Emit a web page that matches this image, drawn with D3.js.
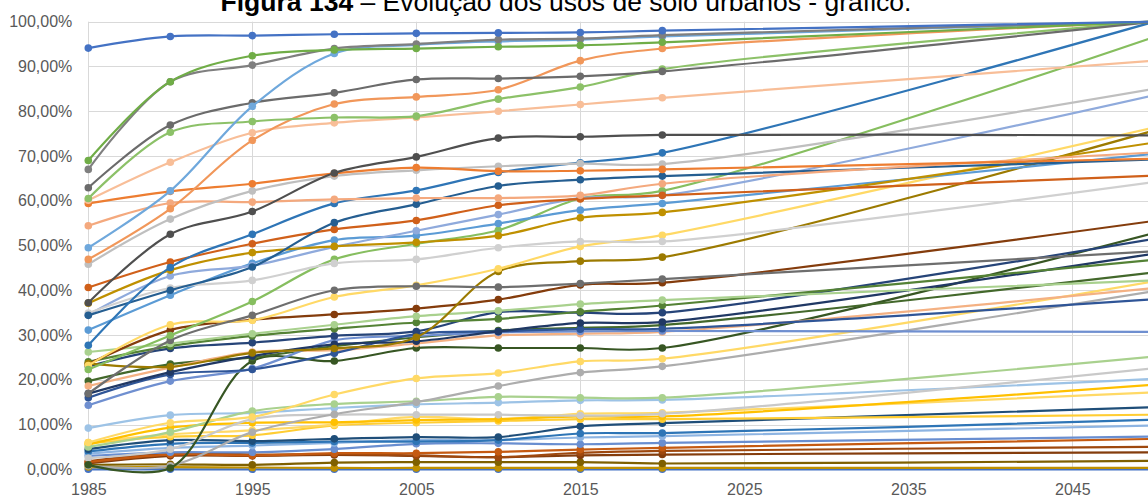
<!DOCTYPE html>
<html>
<head>
<meta charset="utf-8">
<script src="https://cdn.jsdelivr.net/npm/d3@7"></script>
<style>
  html, body { margin: 0; padding: 0; background: #fff; overflow: hidden; }
  svg { display: block; font-family: "Liberation Sans", Arial, sans-serif; }
</style>
</head>
<body>
<div id="chart"></div>
<script>
// anos com dados (o último ponto é a projeção para 2050)
var years = [1985, 1990, 1995, 2000, 2005, 2010, 2015, 2020, 2050];
var xTicks = [1985, 1995, 2005, 2015, 2025, 2035, 2045];
var yTicks = [0, 10, 20, 30, 40, 50, 60, 70, 80, 90, 100];

// valores (%) de cada uso do solo
var serie01 = [94.1, 96.7, 96.9, 97.2, 97.4, 97.5, 97.6, 98.0, 100];
var serie02 = [69.0, 86.6, 92.4, 93.7, 94.0, 94.4, 94.7, 95.4, 100];
var serie03 = [67.0, 86.6, 90.3, 94.0, 95.0, 96.0, 96.2, 97.0, 100];
var serie04 = [49.5, 62.2, 81.1, 92.9, 94.8, 95.6, 96.0, 96.7, 100];
var serie05 = [62.9, 76.9, 81.9, 84.1, 87.1, 87.3, 87.8, 88.9, 100];
var serie06 = [60.5, 75.3, 77.7, 78.6, 78.9, 82.7, 85.4, 89.4, 100];
var serie07 = [46.9, 58.2, 73.5, 81.6, 83.2, 84.8, 91.3, 94.0, 100];
var serie08 = [60.1, 68.6, 75.2, 77.4, 78.6, 80.0, 81.5, 83.0, 91.3];
var serie09 = [37.2, 52.5, 57.6, 66.2, 69.8, 74.0, 74.3, 74.7, 74.6];
var serie10 = [59.4, 62.1, 63.8, 66.1, 67.4, 66.6, 66.7, 67.0, 69.4];
var serie11 = [45.8, 55.9, 62.2, 65.5, 66.8, 67.7, 68.3, 68.2, 85.0];
var serie12 = [54.4, 59.5, 59.7, 60.3, 60.6, 60.6, 61.2, 63.8, 70.8];
var serie13 = [27.7, 45.1, 52.5, 59.4, 62.3, 66.3, 68.5, 70.7, 100];
var serie14 = [34.4, 40.0, 45.2, 55.1, 59.2, 63.3, 64.7, 65.5, 69.2];
var serie15 = [40.6, 46.3, 50.4, 53.6, 55.6, 59.0, 60.4, 61.2, 65.6];
var serie16 = [37.1, 44.5, 48.4, 49.8, 50.7, 52.2, 56.2, 57.4, 73.0];
var serie17 = [34.9, 40.5, 42.2, 46.0, 46.9, 49.5, 50.9, 50.9, 64.2];
var serie18 = [34.5, 43.2, 45.5, 49.7, 53.3, 56.9, 60.6, 61.2, 83.6];
var serie19 = [31.1, 38.9, 46.0, 51.2, 52.2, 54.9, 57.9, 59.4, 70.5];
var serie20 = [22.3, 29.9, 37.5, 46.9, 50.4, 53.4, 60.5, 62.2, 96.6];
var serie21 = [16.9, 28.8, 34.4, 40.0, 40.9, 40.7, 41.5, 42.5, 48.7];
var serie22 = [23.2, 32.3, 33.3, 38.5, 41.1, 44.8, 49.8, 52.3, 76.4];
var serie23 = [23.6, 22.9, 26.0, 27.0, 29.5, 44.2, 46.5, 47.4, 75.7];
var serie24 = [23.5, 31.1, 33.4, 34.6, 35.9, 37.9, 41.2, 41.7, 55.5];
var serie25 = [26.2, 28.1, 30.3, 32.3, 34.2, 35.4, 36.9, 37.8, 42.2];
var serie26 = [24.0, 27.5, 29.8, 31.4, 32.8, 33.6, 35.2, 36.6, 46.8];
var serie27 = [23.0, 27.0, 28.3, 29.8, 30.8, 35.1, 35.0, 35.0, 51.5];
var serie28 = [16.9, 21.7, 25.3, 27.9, 28.6, 30.8, 32.7, 32.9, 48.2];
var serie29 = [16.0, 21.2, 22.3, 25.9, 30.2, 30.8, 31.3, 31.4, 38.0];
var serie30 = [14.3, 19.7, 22.5, 28.8, 29.8, 30.6, 30.8, 30.9, 30.7];
var serie31 = [18.6, 22.7, 26.2, 26.6, 28.1, 29.9, 30.3, 30.7, 40.5];
var serie32 = [19.7, 23.5, 25.0, 27.5, 29.5, 31.0, 31.6, 32.2, 44.0];
var serie33 = [1.0, 0.3, 24.2, 24.2, 27.1, 27.1, 27.1, 27.1, 52.8];
var serie34 = [6.0, 10.4, 11.7, 16.7, 20.3, 21.5, 24.1, 24.7, 42.0];
var serie35 = [0.8, 0.8, 8.3, 12.3, 15.0, 18.6, 21.6, 23.0, 39.8];
var serie36 = [2.5, 4.5, 11.2, 12.2, 12.2, 12.2, 12.0, 12.4, 22.6];
var serie37 = [5.0, 8.3, 13.0, 14.6, 15.2, 16.2, 16.0, 16.0, 25.2];
var serie38 = [9.2, 12.1, 12.6, 13.7, 14.5, 14.9, 15.4, 15.5, 20.2];
var serie39 = [5.5, 9.3, 10.4, 10.5, 11.0, 11.2, 11.8, 11.8, 18.9];
var serie40 = [6.0, 7.8, 8.7, 10.0, 11.7, 11.2, 12.4, 12.6, 17.2];
var serie41 = [5.8, 7.3, 7.6, 9.8, 10.4, 10.8, 11.2, 11.2, 12.2];
var serie42 = [4.5, 6.5, 6.3, 6.8, 7.2, 7.2, 9.6, 10.3, 13.9];
var serie43 = [4.0, 5.7, 5.9, 6.2, 6.2, 6.5, 8.0, 8.1, 11.1];
var serie44 = [3.5, 4.8, 5.3, 5.9, 6.5, 6.5, 7.1, 7.4, 9.8];
var serie45 = [3.0, 3.8, 3.8, 4.5, 5.7, 5.8, 5.6, 5.9, 7.3];
var serie46 = [1.6, 3.3, 3.1, 3.6, 3.6, 3.9, 4.4, 4.8, 6.8];
var serie47 = [1.8, 3.6, 3.3, 3.4, 3.1, 2.7, 3.7, 4.1, 5.0];
var serie48 = [1.3, 3.0, 3.0, 3.2, 3.0, 2.7, 3.1, 3.3, 3.8];
var serie49 = [1.0, 1.1, 1.0, 1.5, 1.6, 1.6, 1.6, 1.3, 1.9];
var serie50 = [0.5, 0.5, 0.4, 0.3, 0.3, 0.3, 0.3, 0.3, 0.3];
var serie51 = [0, 0, 0, 0, 0, 0, 0, 0, 0];

var allSeries = [serie51, serie50, serie49, serie48, serie47, serie46, serie45, serie44, serie43, serie42,
  serie41, serie40, serie39, serie38, serie37, serie36, serie35, serie34, serie33, serie32,
  serie31, serie30, serie29, serie28, serie27, serie26, serie25, serie24, serie23, serie22,
  serie21, serie20, serie19, serie18, serie17, serie16, serie15, serie14, serie13, serie12,
  serie11, serie10, serie09, serie08, serie07, serie06, serie05, serie04, serie03, serie02, serie01];

var colors = ["#4472C4", "#BF9000", "#7F6000", "#843C0C", "#9E480E", "#C55A11", "#698ED0", "#8DB4E2", "#2E75B6", "#1F4E79",
  "#FFCD33", "#FFD966", "#FFC000", "#9DC3E6", "#A9D18E", "#C9C9C9", "#ADADAD", "#FFD966", "#375623", "#43682B",
  "#F4B183", "#6F8FD0", "#2F5597", "#203864", "#264478", "#548235", "#A9D18E", "#843C0C", "#9C7A00", "#FFD966",
  "#6E6E6E", "#86BE5F", "#5B9BD5", "#8FAADC", "#D0D0D0", "#BF9000", "#D0601A", "#255E91", "#2E75B6", "#F4A97E",
  "#BFBFBF", "#ED7D31", "#4F4F4F", "#F8BE98", "#F1975A", "#8CC168", "#6B6B6B", "#6FA8DC", "#7F7F7F", "#70AD47", "#4472C4"];

var width = 1148, height = 497;

var svg = d3.select("#chart").append("svg")
  .attr("width", width)
  .attr("height", height);

var x = d3.scaleLinear().domain([1985, 2050]).range([88.3, 1154.3]);
var y = d3.scaleLinear().domain([0, 100]).range([469.3, 21.7]);

// grelha
svg.append("g").selectAll("line.h")
  .data(yTicks).enter().append("line")
  .attr("x1", x(1985)).attr("x2", width)
  .attr("y1", d => Math.round(y(d)) + 0.5).attr("y2", d => Math.round(y(d)) + 0.5)
  .attr("stroke", "#D9D9D9").attr("stroke-width", 1);

svg.append("g").selectAll("line.v")
  .data(xTicks).enter().append("line")
  .attr("x1", d => Math.round(x(d)) + 0.5).attr("x2", d => Math.round(x(d)) + 0.5)
  .attr("y1", y(100)).attr("y2", y(0))
  .attr("stroke", "#D9D9D9").attr("stroke-width", 1);

// eixos
var yAxis = d3.axisLeft(y).tickValues(yTicks).tickSize(0).tickPadding(16)
  .tickFormat(d => d.toFixed(2).replace(".", ",") + "%");
var gy = svg.append("g").attr("transform", "translate(" + x(1985) + ",0)").call(yAxis);
gy.select(".domain").remove();
gy.selectAll("text").style("font-size", "16px").attr("fill", "#595959");

var xAxis = d3.axisBottom(x).tickValues(xTicks).tickSize(0).tickPadding(14).tickFormat(d3.format("d"));
var gx = svg.append("g").attr("transform", "translate(0," + y(0) + ")").call(xAxis);
gx.select(".domain").remove();
gx.selectAll("text").style("font-size", "16px").attr("fill", "#595959");

// linhas
var line = d3.line()
  .x((d, i) => x(years[i]))
  .y(d => y(d))
  .curve(d3.curveCatmullRom.alpha(0.5));

var g = svg.append("g");
allSeries.forEach(function (s, k) {
  g.append("path")
    .attr("d", line(s))
    .attr("fill", "none")
    .attr("stroke", colors[k])
    .attr("stroke-width", 2.2);
  g.selectAll(null)
    .data(s).enter().append("circle")
    .attr("cx", (d, i) => x(years[i]))
    .attr("cy", d => y(d))
    .attr("r", 3.8)
    .attr("fill", colors[k]);
});

// título
var title = svg.append("text")
  .attr("x", 566).attr("y", 11)
  .attr("text-anchor", "middle")
  .style("font-size", "26.5px")
  .attr("fill", "#000");
title.append("tspan").style("font-weight", "bold").text("Figura 134");
title.append("tspan").text(" \u2013 Evolução dos usos de solo urbanos - gráfico.");
</script>
</body>
</html>
